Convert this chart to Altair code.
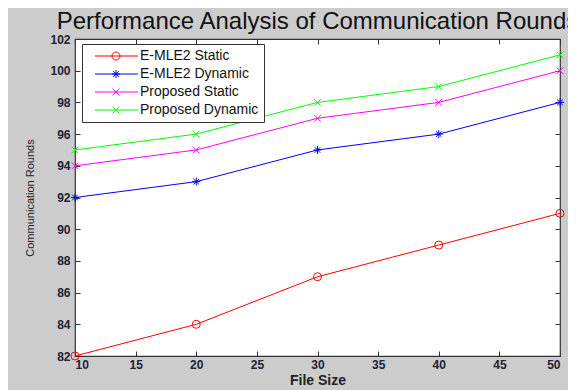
import altair as alt
import pandas as pd

# ---- data ----
file_size = [10, 20, 30, 40, 50]
emle2_static = [82, 84, 87, 89, 91]
emle2_dynamic = [92, 93, 95, 96, 98]
proposed_static = [94, 95, 97, 98, 100]
proposed_dynamic = [95, 96, 98, 99, 101]

series_names = ["E-MLE2 Static", "E-MLE2 Dynamic", "Proposed Static", "Proposed Dynamic"]
series_values = [emle2_static, emle2_dynamic, proposed_static, proposed_dynamic]
series_colors = ["#ff0000", "#0000ff", "#ff00ff", "#00ff00"]

x_ticks = [10, 15, 20, 25, 30, 35, 40, 45, 50]
y_ticks = [82, 84, 86, 88, 90, 92, 94, 96, 98, 100, 102]

rows = []
for name, vals in zip(series_names, series_values):
    for xv, yv in zip(file_size, vals):
        rows.append({"File Size": xv, "Rounds": yv, "series": name})
df = pd.DataFrame(rows)

# ---- marker shapes ----
star = "M-1,0L1,0M0,-1L0,1M-0.7,-0.7L0.7,0.7M-0.7,0.7L0.7,-0.7"
xmark = "M-0.85,-0.85L0.85,0.85M-0.85,0.85L0.85,-0.85"
marker_shapes = ["circle", star, xmark, xmark]

# legend symbols: line segment + marker
ln = "M0.25,0L11,0"
leg_circle = ln + "M6.5,0A1,1,0,1,1,4.5,0A1,1,0,1,1,6.5,0"
leg_star = ln + "M4.5,0L6.5,0M5.5,-1L5.5,1M4.8,-0.7L6.2,0.7M4.8,0.7L6.2,-0.7"
leg_x = ln + "M4.65,-0.85L6.35,0.85M4.65,0.85L6.35,-0.85"
legend_shapes = [leg_circle, leg_star, leg_x, leg_x]

FONT = "Liberation Sans"

xscale = alt.Scale(domain=[10, 50], nice=False, zero=False)
yscale = alt.Scale(domain=[82, 102], nice=False, zero=False)
cscale = alt.Scale(domain=series_names, range=series_colors)

common_axis = dict(
    domain=False, grid=False, tickSize=5, offset=-5, tickColor="#333333",
    labelFont=FONT, labelFontSize=12, labelFontWeight="bold", labelColor="#222233",
)

base = alt.Chart(df)

lines = base.mark_line(strokeWidth=1).encode(
    x=alt.X("File Size:Q", scale=xscale,
            axis=alt.Axis(values=x_ticks, labelPadding=3, title="File Size",
                          titleFont=FONT, titleFontSize=14, titleFontWeight="bold",
                          titleColor="#222222", titlePadding=3, **common_axis)),
    y=alt.Y("Rounds:Q", scale=yscale,
            axis=alt.Axis(values=y_ticks, labelPadding=5, title="Communication Rounds",
                          titleFont=FONT, titleFontSize=11, titleFontWeight="normal",
                          titleColor="#222222", titlePadding=14, **common_axis)),
    color=alt.Color("series:N", scale=cscale, legend=None),
    detail="series:N",
)

points = base.mark_point(filled=False, strokeWidth=1, size=64, opacity=1).encode(
    x=alt.X("File Size:Q", scale=xscale, axis=None),
    y=alt.Y("Rounds:Q", scale=yscale, axis=None),
    color=alt.Color("series:N", scale=cscale, legend=None),
    shape=alt.Shape("series:N", scale=alt.Scale(domain=series_names, range=marker_shapes), legend=None),
)

mirror = base.mark_point(opacity=0).encode(
    x=alt.X("File Size:Q", scale=xscale,
            axis=alt.Axis(orient="top", values=x_ticks, labels=False, title=None, **common_axis)),
    y=alt.Y("Rounds:Q", scale=yscale,
            axis=alt.Axis(orient="right", values=y_ticks, labels=False, title=None, **common_axis)),
)

legend_props = dict(
    title=None, orient="none", legendX=7, legendY=5, padding=5, rowPadding=4,
    labelOffset=39, symbolSize=64, symbolStrokeWidth=1, symbolOpacity=1,
    labelFont=FONT, labelFontSize=14, labelColor="#111111",
    strokeColor="#333333", fillColor="white", cornerRadius=0,
)

legend_layer = base.mark_point(filled=False, opacity=0, size=64, strokeWidth=1).encode(
    x=alt.X("File Size:Q", scale=xscale, axis=None),
    y=alt.Y("Rounds:Q", scale=yscale, axis=None),
    color=alt.Color("series:N", scale=cscale, legend=alt.Legend(**legend_props)),
    shape=alt.Shape("series:N", scale=alt.Scale(domain=series_names, range=legend_shapes),
                    legend=alt.Legend(**legend_props)),
)

chart = alt.layer(lines, points, mirror, legend_layer).resolve_scale(
    color="independent", shape="independent"
).resolve_axis(
    x="independent", y="independent"
).properties(
    width=485, height=317,
    autosize=alt.AutoSizeParams(type="none"),
    padding={"left": 67, "top": 31, "right": 8, "bottom": 34},
    background="#cccccc",
    title=alt.TitleParams("Performance Analysis of Communication Rounds",
                          font=FONT, fontSize=24, fontWeight="normal", color="#111111",
                          anchor="middle", frame="group", offset=-1),
).configure_view(
    fill="white", stroke="#333333", strokeWidth=1.2
)

chart.save("out.html", embed_options={"renderer": "svg", "actions": False})
